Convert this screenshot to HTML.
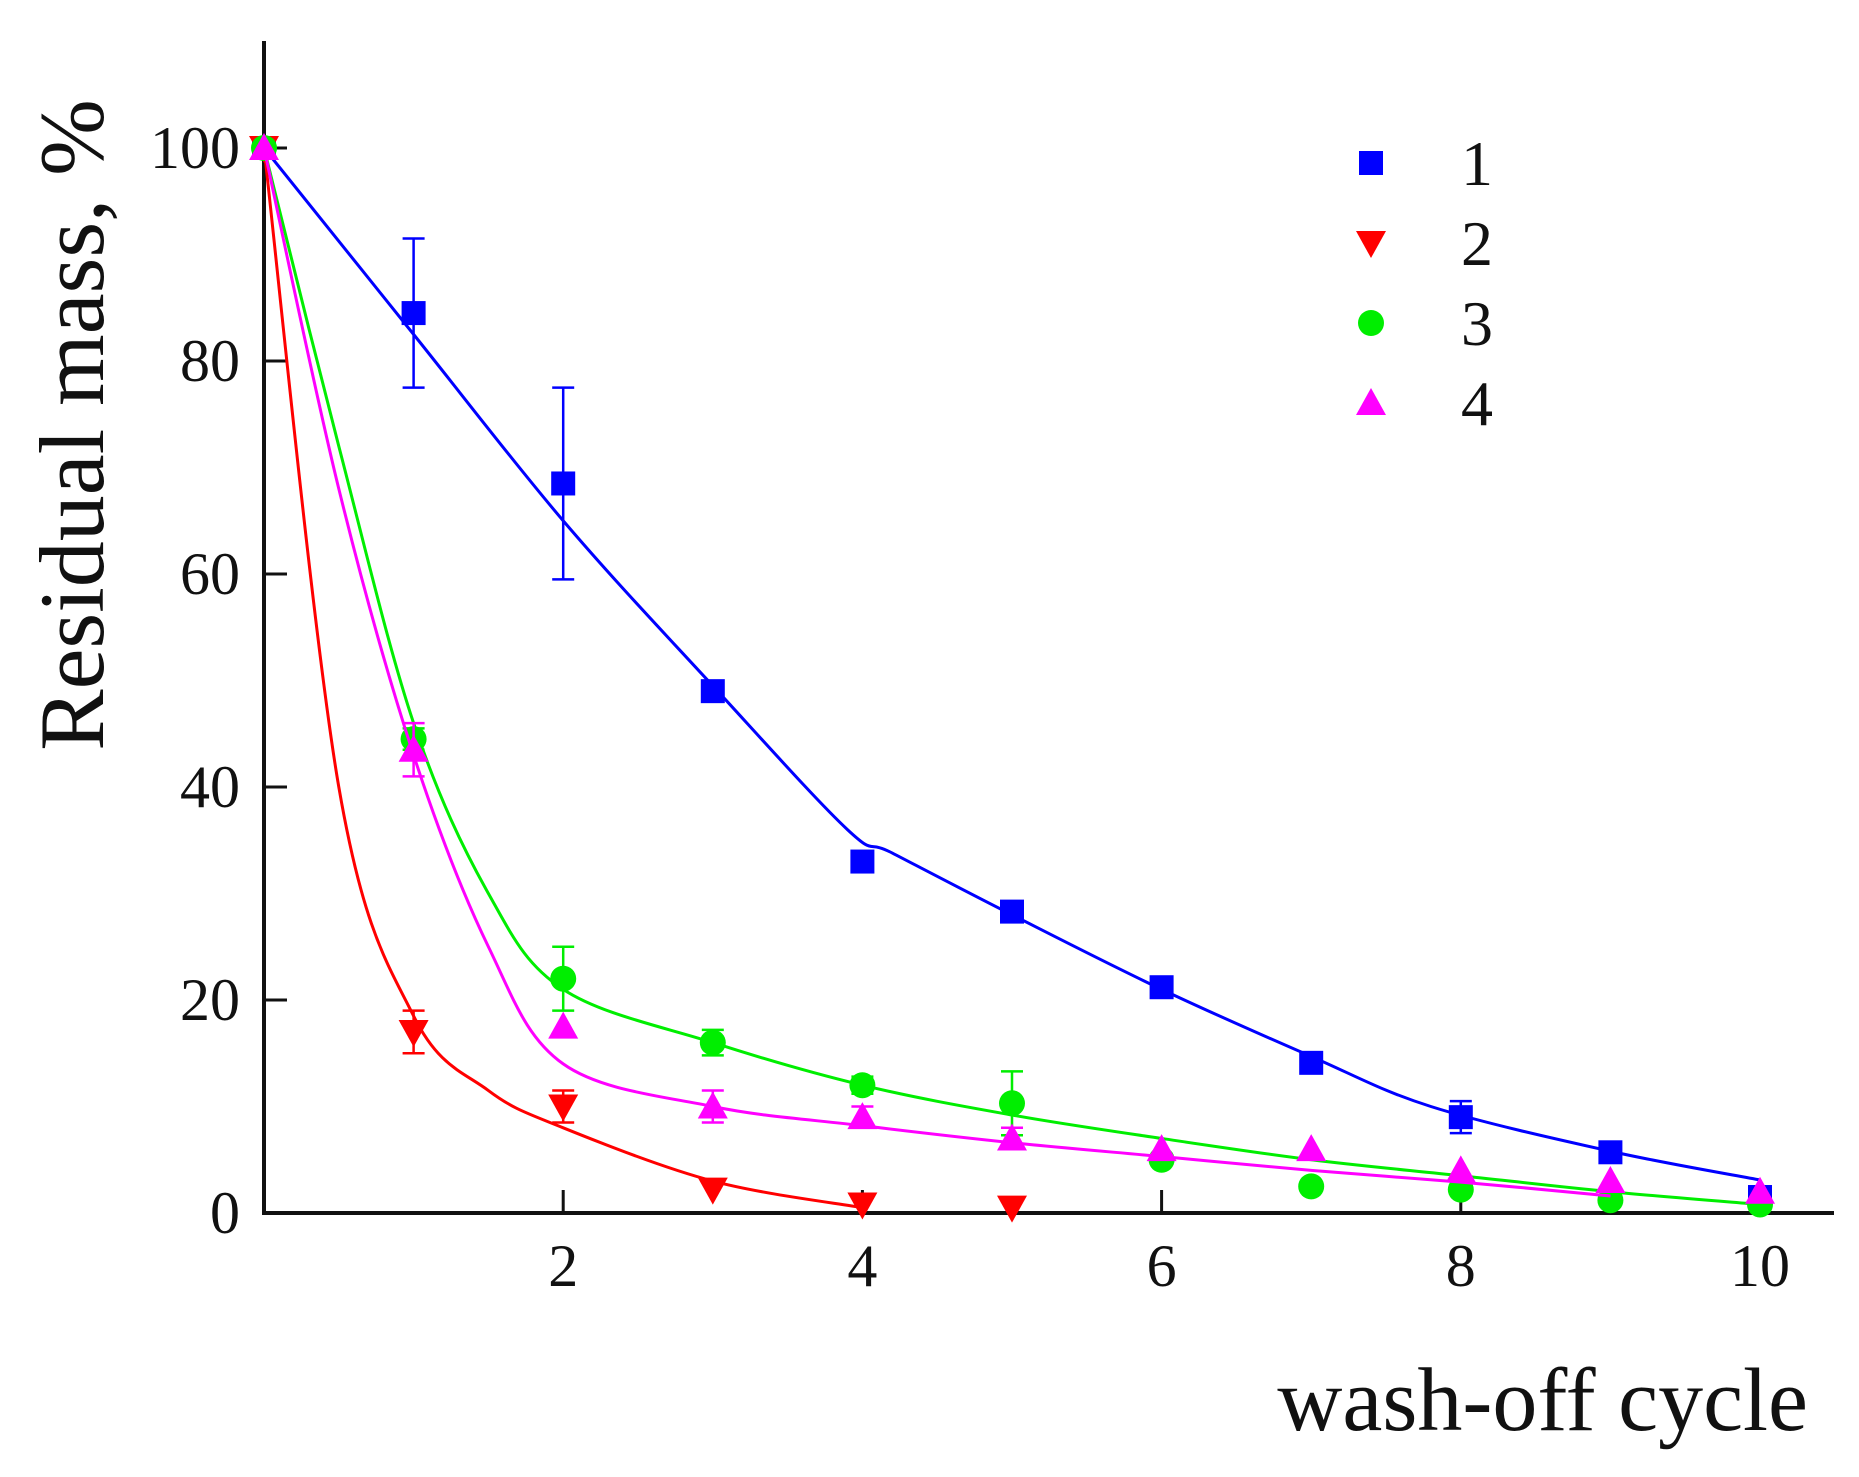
<!DOCTYPE html>
<html><head><meta charset="utf-8"><style>
html,body{margin:0;padding:0;background:#fff}
svg{display:block}
text{font-family:"Liberation Serif",serif;fill:#111}
</style></head><body>
<svg id="chart" width="1859" height="1477" viewBox="0 0 1859 1477">
<g id="axes"></g>
<g id="series"></g>
<g id="legend"></g>
<text x="72" y="425" font-size="92" text-anchor="middle" dominant-baseline="central" transform="rotate(-90 72 425)">Residual mass, %</text>
<text x="1808" y="1430" font-size="90" text-anchor="end">wash-off cycle</text>
</svg>
<script>
const xTicks=[2,4,6,8,10];
const yTicks=[0,20,40,60,80,100];
const cycles=[0,1,2,3,4,5,6,7,8,9,10];
const s1Values=[100,84.5,68.5,49,33,28.3,21.2,14.1,9,5.7,1.5];
const s1Errors=[0,7,9,0,0,0,0,0,1.5,0,0];
const s1FitX=[0,1,2,3,3.9,4.2,5,6,7,7.8,9,10];
const s1FitY=[100,82.5,65,49.5,36,33.8,28,21,14.7,10,5.8,3.1];
const s2X=[0,1,2,3,4,5];
const s2Values=[100,17,10,2.2,0.8,0.5];
const s2Errors=[0,2,1.5,0,0,0];
const s2FitX=[0,0.5,1,1.5,2,3,4];
const s2FitY=[100,40,18.5,11.5,8,3,0.5];
const s3Values=[100,44.5,22,16,12,10.3,5,2.5,2.2,1.2,0.8];
const s3Errors=[0,1,3,1.2,0.8,3,0,0,0,0,0];
const s3FitX=[0,0.5,1,1.5,2,3,4,5,6,7,8,9,10];
const s3FitY=[100,72,46,30,21,16,12,9.2,7,5,3.5,2,0.8];
const s4Values=[100,43.5,17.5,10,9,7,6,6,4,3,2];
const s4Errors=[0,2.5,0,1.5,1,1,0,0,0,0,0];
const s4FitX=[0,0.5,1,1.5,2,3,4,5,6,7,8,9];
const s4FitY=[100,68,43,25,14,10,8.2,6.6,5.3,4,2.9,1.6];
const legendLabels=["1","2","3","4"];

const NS="http://www.w3.org/2000/svg";
const X=v=>264+v*149.6;
const Y=v=>1213-v*10.65;
function mk(tag,attrs,parent){const e=document.createElementNS(NS,tag);for(const k in attrs)e.setAttribute(k,attrs[k]);parent.appendChild(e);return e;}
const axes=document.getElementById('axes');
let e;
e=mk('line',{x1:264,y1:41,x2:264,y2:1215,stroke:'#111','stroke-width':4},axes);


e=mk('line',{x1:262,y1:1213,x2:1834,y2:1213,stroke:'#111','stroke-width':4},axes);


xTicks.forEach(t=>{
  e=mk('line',{x1:X(t),y1:1213,x2:X(t),y2:1190,stroke:'#111','stroke-width':3},axes);
  
  
  e=mk('text',{x:X(t),y:1286,'font-size':60,'text-anchor':'middle'},axes);e.textContent=t;
  
  
});
yTicks.forEach(t=>{
  e=mk('line',{x1:264,y1:Y(t),x2:287,y2:Y(t),stroke:'#111','stroke-width':3},axes);
  
  
  e=mk('text',{x:240,y:Y(t)+20,'font-size':60,'text-anchor':'end'},axes);e.textContent=t;
  
  
});
function curve(xs,ys){
  const p=xs.map((x,i)=>[X(x),Y(ys[i])]);
  let d='M'+p[0][0]+','+p[0][1];
  for(let i=0;i<p.length-1;i++){
    const p0=p[Math.max(0,i-1)],p1=p[i],p2=p[i+1],p3=p[Math.min(p.length-1,i+2)];
    const c1=[p1[0]+(p2[0]-p0[0])/6,p1[1]+(p2[1]-p0[1])/6];
    const c2=[p2[0]-(p3[0]-p1[0])/6,p2[1]-(p3[1]-p1[1])/6];
    d+=` C${c1[0]},${c1[1]} ${c2[0]},${c2[1]} ${p2[0]},${p2[1]}`;
  }
  return d;
}
function marker(shape,cx,cy,color,parent){
  let m;
  if(shape==='square')m=mk('rect',{x:cx-12,y:cy-12,width:24,height:24,fill:color},parent);
  else if(shape==='circle')m=mk('circle',{cx:cx,cy:cy,r:13,fill:color},parent);
  else if(shape==='down')m=mk('polygon',{points:`${cx-15},${cy-12} ${cx+15},${cy-12} ${cx},${cy+15}`,fill:color},parent);
  else m=mk('polygon',{points:`${cx-15},${cy+12} ${cx+15},${cy+12} ${cx},${cy-15}`,fill:color},parent);
  return m;
}
const seriesG=document.getElementById('series');
const defs=[
 {name:'series-1',color:'#0000ff',shape:'square',xs:cycles,vals:s1Values,errs:s1Errors,fx:s1FitX,fy:s1FitY},
 {name:'series-2',color:'#ff0000',shape:'down',xs:s2X,vals:s2Values,errs:s2Errors,fx:s2FitX,fy:s2FitY},
 {name:'series-3',color:'#00ee00',shape:'circle',xs:cycles,vals:s3Values,errs:s3Errors,fx:s3FitX,fy:s3FitY},
 {name:'series-4',color:'#ff00ff',shape:'up',xs:cycles,vals:s4Values,errs:s4Errors,fx:s4FitX,fy:s4FitY}
];
defs.forEach(s=>{
  const g=mk('g',{},seriesG);
  
  
  const path=mk('path',{d:curve(s.fx,s.fy),fill:'none',stroke:s.color,'stroke-width':3},g);
  
  
  s.xs.forEach((x,i)=>{
    const cx=X(x),cy=Y(s.vals[i]),er=s.errs[i];
    if(er>0){
      const eg=mk('path',{d:`M${cx},${Y(s.vals[i]+er)}V${Y(s.vals[i]-er)}M${cx-11},${Y(s.vals[i]+er)}h22M${cx-11},${Y(s.vals[i]-er)}h22`,stroke:s.color,'stroke-width':2.5,fill:'none'},g);
      
      
    }
    const m=marker(s.shape,cx,cy,s.color,g);
    
    
  });
});
const lg=document.getElementById('legend');
defs.forEach((s,i)=>{
  const cy=163+i*80;
  const m=marker(s.shape,1371,cy,s.color,lg);
  
  
  const t=mk('text',{x:1477,y:cy+22,'font-size':64,'text-anchor':'middle'},lg);
  t.textContent=legendLabels[i];
  
  
});
</script>
</body></html>
